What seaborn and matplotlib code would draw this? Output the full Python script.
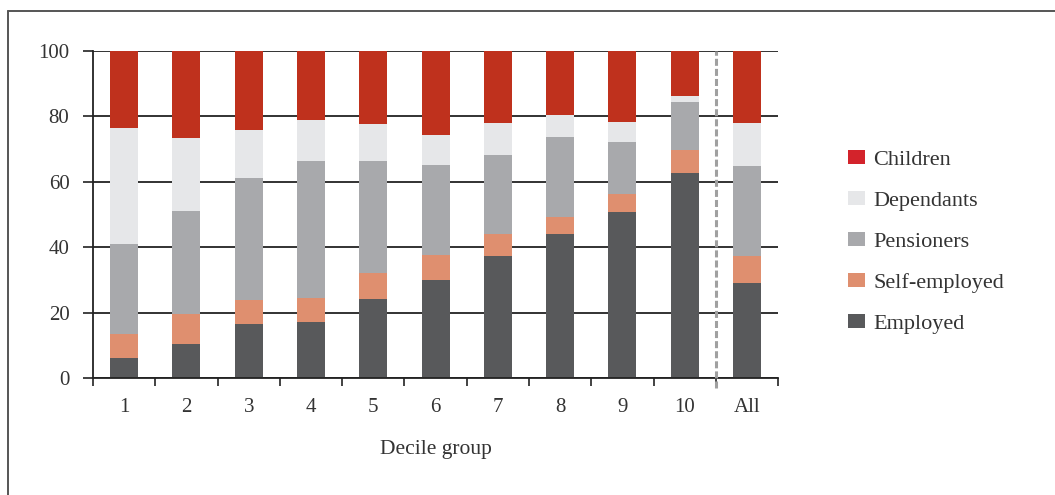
import numpy as np
import pandas as pd
import matplotlib
matplotlib.use("Agg")
import matplotlib.pyplot as plt
import seaborn as sns
from matplotlib.patches import Patch
from matplotlib.lines import Line2D

# data (% of people in each decile)
groups = ["1", "2", "3", "4", "5", "6", "7", "8", "9", "10", "All"]
employed = [6.2, 10.5, 16.6, 17.2, 24.2, 30.0, 37.3, 44.0, 50.8, 62.7, 29.1]
self_employed = [7.3, 9.1, 7.4, 7.4, 7.9, 7.6, 6.7, 5.2, 5.6, 7.1, 8.3]
pensioners = [27.5, 31.5, 37.1, 41.7, 34.2, 27.5, 24.2, 24.5, 15.7, 14.5, 27.4]
dependants = [35.4, 22.2, 14.7, 12.5, 11.3, 9.2, 9.7, 6.7, 6.1, 1.9, 13.1]
children = [23.6, 26.7, 24.2, 21.2, 22.4, 25.7, 22.1, 19.6, 21.8, 13.8, 22.1]

series = ["Employed", "Self-employed", "Pensioners", "Dependants", "Children"]
bar_colors = ["#58595b", "#df8f6f", "#a8a9ac", "#e6e7e9", "#bf311d"]
legend_colors = ["#58595b", "#df8f6f", "#a8a9ac", "#e6e7e9", "#d3232b"]


def main():
    sns.set_theme(style="white")
    plt.rcParams["font.family"] = ["Liberation Serif", "DejaVu Serif"]
    plt.rcParams["text.color"] = "#333333"

    df = pd.DataFrame({
        "group": groups,
        "Employed": employed,
        "Self-employed": self_employed,
        "Pensioners": pensioners,
        "Dependants": dependants,
        "Children": children,
    })
    cum = df[series].cumsum(axis=1)

    fig = plt.figure(figsize=(10.55, 4.95), dpi=100)
    ax = fig.add_axes([0.0882, 0.2358, 0.6493, 0.6618])

    # stacked bars: draw the running totals from the top down
    for name, col in reversed(list(zip(series, bar_colors))):
        sns.barplot(x=df["group"], y=cum[name], order=groups, color=col,
                    saturation=1, width=0.45, linewidth=0, errorbar=None, ax=ax)

    ax.set_xlim(-0.5, len(groups) - 0.5)
    ax.set_ylim(0, 100)
    ax.set_yticks([0, 20, 40, 60, 80, 100])
    ax.yaxis.grid(True, color="#222222", linewidth=1.3)
    ax.set_axisbelow(True)

    for s in ["top", "right"]:
        ax.spines[s].set_visible(False)
    for s in ["left", "bottom"]:
        ax.spines[s].set_color("#222222")
        ax.spines[s].set_linewidth(1.3)

    ax.tick_params(axis="y", length=7, width=1.2, color="#222222",
                   labelsize=15, pad=10, left=True, labelcolor="#333333")
    ax.tick_params(axis="x", which="major", length=0, pad=14,
                   labelsize=15, labelcolor="#333333")
    ax.set_xticks(np.arange(-0.5, len(groups)), minor=True)
    ax.tick_params(axis="x", which="minor", length=6, width=1.2,
                   color="#222222", bottom=True)

    ax.set_xlabel("Decile group", fontsize=15.5, labelpad=17, color="#333333")
    ax.set_ylabel("")

    # dashed separator before the "All" bar
    ax.axvline(len(groups) - 1.5, ymin=-0.03, ymax=1, color="#a0a0a0",
               linewidth=2.2, dashes=(2.3, 1.0), clip_on=False, zorder=5)

    # legend, top-down order
    handles = [Patch(facecolor=c, edgecolor="none", label=n)
               for n, c in zip(series, legend_colors)][::-1]
    fig.legend(handles=handles, loc="upper left",
               bbox_to_anchor=(848 / 1055, 1 - 150 / 495),
               frameon=False, fontsize=16, borderpad=0, borderaxespad=0,
               handlelength=0.75, handleheight=0.6, handletextpad=0.4,
               labelspacing=0.95)

    # outer frame (top and left edges visible)
    fig.add_artist(Line2D([8 / 1055, 1.0], [1 - 11 / 495, 1 - 11 / 495],
                          color="#555555", linewidth=1.4))
    fig.add_artist(Line2D([8 / 1055, 8 / 1055], [0.0, 1 - 11 / 495],
                          color="#555555", linewidth=1.4))

    fig.savefig("out.png", dpi=100)
    plt.close(fig)


if __name__ == "__main__":
    main()
